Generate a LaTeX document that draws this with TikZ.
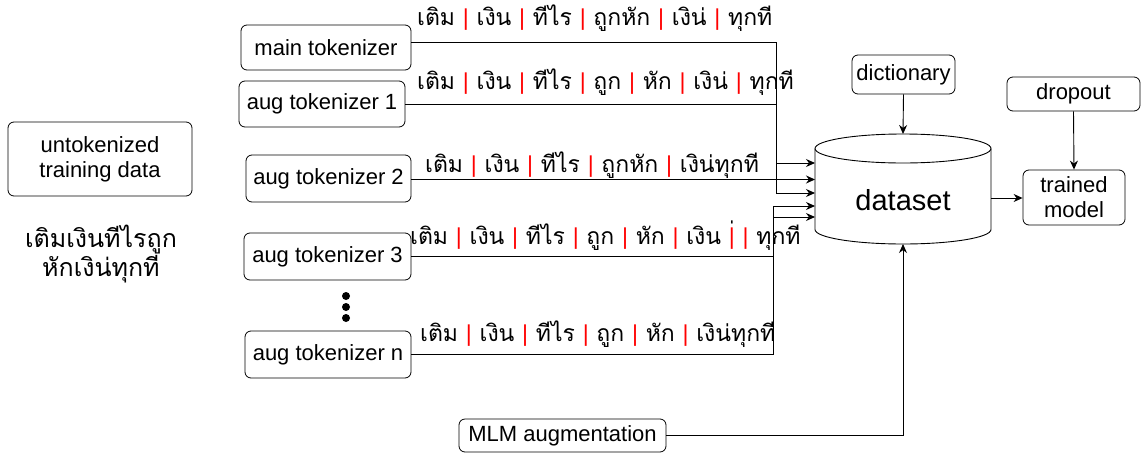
\documentclass[tikz,border=0pt]{standalone}
\usepackage{fontspec}
\setmainfont{Liberation Sans}
\newfontfamily\thai[Script=Thai]{Loma}
\usetikzlibrary{arrows.meta}
\newcommand\sepbar{{\color{red}\rmfamily|}}
\begin{document}
\begin{tikzpicture}[x=1pt,y=-1pt,
  box/.style={draw, rounded corners=6pt, line width=0.8pt, inner sep=0pt, align=center, font=\fontsize{22}{25}\selectfont},
  tok/.style={anchor=west, inner sep=0pt, font=\thai\fontsize{23}{28}\selectfont},
  conn/.style={line width=0.9pt},
  arr/.style={conn, -{Stealth[length=9pt,width=8pt]}},
]
\useasboundingbox (0,0) rectangle (1141,453);

% boxes
\node[box, minimum width=170, minimum height=45] (main) at (326,47.5) {main tokenizer};
\node[box, minimum width=166, minimum height=46] (aug1) at (322,104) {aug tokenizer 1};
\node[box, minimum width=165, minimum height=47] (aug2) at (328.5,178.5) {aug tokenizer 2};
\node[box, minimum width=167, minimum height=47] (aug3) at (327.5,256.5) {aug tokenizer 3};
\node[box, minimum width=166, minimum height=47] (augn) at (328,354.5) {aug tokenizer n};
\node[box, minimum width=184, minimum height=74] (untok) at (100,159) {untokenized\\training data};
\node[box, minimum width=103, minimum height=39] (dict) at (903.5,74.5) {dictionary};
\node[box, minimum width=133, minimum height=34] (drop) at (1073.5,94) {dropout};
\node[box, minimum width=102, minimum height=55] (model) at (1074,197.5) {trained\\model};
\node[box, minimum width=207, minimum height=33] (mlm) at (562.5,435.5) {MLM augmentation};

% raw text
\node[align=center, inner sep=0pt, font=\thai\fontsize{25}{25}\selectfont] (raw) at (101,254) {เติมเงินทีไรถูก\\หักเงิน่ทุกที};

% dots
\fill (346,296) circle (4pt) (346,307) circle (4pt) (346,318) circle (4pt);

% dataset cylinder
\draw[conn, fill=white] (815,148.5) -- (815,229.5) arc[start angle=180, end angle=360, x radius=88pt, y radius=14.5pt] -- (991,148.5);
\draw[conn] (903,148.5) ellipse [x radius=88pt, y radius=14.5pt];
\node[inner sep=0pt, font=\fontsize{29}{34}\selectfont] (ds) at (903,200) {dataset};

\coordinate (in1) at (815,163);
\coordinate (in2) at (815,179.5);
\coordinate (in3) at (815,193);
\coordinate (in4) at (815,206);
\coordinate (in5) at (815,217);
\coordinate (j1) at (776,163);
\coordinate (j3) at (776,193);
\coordinate (j4) at (773,206);
\coordinate (j5) at (773,217);
\coordinate (dstop) at (903,134);
\coordinate (dsbot) at (903,244);
\coordinate (dsright) at (991,198);

% token rows
\node[tok] (t1) at (417,18) {เติม \sepbar{} เงิน \sepbar{} ทีไร \sepbar{} ถูกหัก \sepbar{} เงิน่ \sepbar{} ทุกที};
\node[tok] (t2) at (417,82) {เติม \sepbar{} เงิน \sepbar{} ทีไร \sepbar{} ถูก \sepbar{} หัก \sepbar{} เงิน่ \sepbar{} ทุกที};
\node[tok] (t3) at (425,165) {เติม \sepbar{} เงิน \sepbar{} ทีไร \sepbar{} ถูกหัก \sepbar{} เงิน่ทุกที};
\node[tok] (t4) at (410,236) {เติม \sepbar{} เงิน \sepbar{} ทีไร \sepbar{} ถูก \sepbar{} หัก \sepbar{} เงิน \sepbar{}่ \sepbar{} ทุกที};
\node[tok] (t5) at (420,334) {เติม \sepbar{} เงิน \sepbar{} ทีไร \sepbar{} ถูก \sepbar{} หัก \sepbar{} เงิน่ทุกที};

% connectors
\draw[arr] ([yshift=5.5pt]main.east) -| (j1) -- (in1);
\draw[arr] (aug1.east) -| (j3) -- (in3);
\draw[arr] (aug2.east |- in2) -- (in2);
\draw[arr] (aug3.east) -| (j4) -- (in4);
\draw[arr] (augn.east) -| (j5) -- (in5);
\draw[arr] (dict.south) -- (dstop);
\draw[arr] (drop.south) -- (model.north);
\draw[arr] (dsright) -- (model.west |- dsright);
\draw[arr] (mlm.east) -| (dsbot);
\end{tikzpicture}
\end{document}
